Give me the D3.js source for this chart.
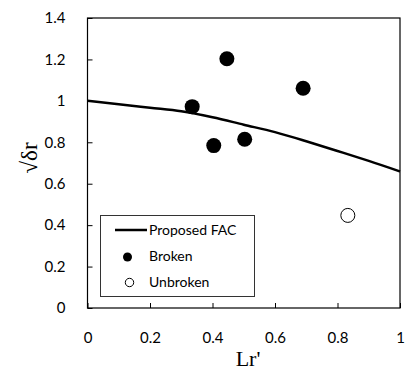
<!DOCTYPE html>
<html>
<head>
<meta charset="utf-8">
<script src="https://cdn.jsdelivr.net/npm/d3@7"></script>
<style>
	body { margin: 0; background: #fff; }
	svg { display: block; }
	.tick text { font-family: Lato, "Open Sans", sans-serif; font-size: 15px; fill: #000; }
	.legend text { font-family: Lato, "Open Sans", sans-serif; font-size: 14px; fill: #000; }
</style>
</head>
<body>
<div id="chart"></div>
<script>
//values
let facLr = [0, 0.1, 0.2, 0.3, 0.4, 0.5, 0.6, 0.7, 0.8, 0.9, 1.0];
let facValues = [1.0, 0.984, 0.967, 0.95, 0.921, 0.885, 0.849, 0.805, 0.758, 0.71, 0.659];

let brokenLr = [0.335, 0.446, 0.404, 0.503, 0.690];
let brokenValues = [0.972, 1.203, 0.784, 0.815, 1.061];

let unbrokenLr = [0.833];
let unbrokenValues = [0.447];

let xTicks = [0, 0.2, 0.4, 0.6, 0.8, 1];
let yTicks = [0, 0.2, 0.4, 0.6, 0.8, 1, 1.2, 1.4];

let legendLabels = ["Proposed FAC", "Broken", "Unbroken"];

function graph(){

	//sizing
	let width = 407;
	let height = 372;
	let margin = {top: 18, right: 7, bottom: 64, left: 87.5};

	let svg = d3.select("#chart")
		.append("svg")
		.attr("width", width)
		.attr("height", height);

	const xScale = d3.scaleLinear()
		.domain([0, 1])
		.range([margin.left, width - margin.right]);

	const yScale = d3.scaleLinear()
		.domain([0, 1.4])
		.range([height - margin.bottom, margin.top]);

	//axes, ticks inside
	const xAxis = d3.axisBottom(xScale)
		.tickValues(xTicks)
		.tickSize(-5)
		.tickSizeOuter(0)
		.tickPadding(24)
		.tickFormat(d3.format("~g"));

	const yAxis = d3.axisLeft(yScale)
		.tickValues(yTicks)
		.tickSize(-5)
		.tickSizeOuter(0)
		.tickPadding(22)
		.tickFormat(d3.format("~g"));

	svg.append("g")
		.attr("class", "axis x_axis")
		.attr("transform", `translate(0,${yScale(0)})`)
		.call(xAxis);

	svg.append("g")
		.attr("class", "axis y_axis")
		.attr("transform", `translate(${xScale(0)},0)`)
		.call(yAxis);

	svg.selectAll(".axis .domain").remove();
	svg.selectAll(".axis line").attr("stroke", "#000");

	//plot frame
	svg.append("rect")
		.attr("x", xScale(0))
		.attr("y", yScale(1.4))
		.attr("width", xScale(1) - xScale(0))
		.attr("height", yScale(0) - yScale(1.4))
		.attr("fill", "none")
		.attr("stroke", "#000")
		.attr("stroke-width", 1.2);

	//curve
	let facData = facLr.map((d, i) => [d, facValues[i]]);
	const line = d3.line()
		.x((d) => xScale(d[0]))
		.y((d) => yScale(d[1]))
		.curve(d3.curveMonotoneX);

	svg.append("path")
		.datum(facData)
		.attr("d", line)
		.attr("fill", "none")
		.attr("stroke", "#000")
		.attr("stroke-width", 2.5);

	//points
	svg.selectAll(".broken")
		.data(brokenLr.map((d, i) => [d, brokenValues[i]]))
		.enter()
		.append("circle")
		.attr("class", "broken")
		.attr("cx", (d) => xScale(d[0]))
		.attr("cy", (d) => yScale(d[1]))
		.attr("r", 7.5)
		.attr("fill", "#000");

	svg.selectAll(".unbroken")
		.data(unbrokenLr.map((d, i) => [d, unbrokenValues[i]]))
		.enter()
		.append("circle")
		.attr("class", "unbroken")
		.attr("cx", (d) => xScale(d[0]))
		.attr("cy", (d) => yScale(d[1]))
		.attr("r", 7)
		.attr("fill", "#fff")
		.attr("stroke", "#000")
		.attr("stroke-width", 1);

	//legend
	let legend = svg.append("g").attr("class", "legend");

	legend.append("rect")
		.attr("x", 100.5)
		.attr("y", 215.5)
		.attr("width", 154)
		.attr("height", 81)
		.attr("fill", "#fff")
		.attr("stroke", "#333")
		.attr("stroke-width", 1);

	legend.append("line")
		.attr("x1", 115).attr("x2", 147)
		.attr("y1", 230).attr("y2", 230)
		.attr("stroke", "#000")
		.attr("stroke-width", 2.5);

	legend.append("circle")
		.attr("cx", 127.5).attr("cy", 257)
		.attr("r", 4.5)
		.attr("fill", "#000");

	legend.append("circle")
		.attr("cx", 129.5).attr("cy", 282.5)
		.attr("r", 4.2)
		.attr("fill", "#fff")
		.attr("stroke", "#000");

	legend.selectAll("text")
		.data(legendLabels)
		.enter()
		.append("text")
		.attr("x", 149)
		.attr("y", (d, i) => 235 + i * 26)
		.text((d) => d);

	//axis titles
	svg.append("text")
		.attr("x", 248)
		.attr("y", 366)
		.attr("text-anchor", "middle")
		.style("font-family", "'Liberation Serif', 'DejaVu Serif', serif")
		.style("font-size", "22px")
		.text("Lr'");

	svg.append("text")
		.attr("transform", "translate(37,158) rotate(-90)")
		.attr("text-anchor", "middle")
		.style("font-family", "'Liberation Serif', 'DejaVu Serif', serif")
		.style("font-size", "23px")
		.text("√δr");

} //function graph

graph();
</script>
</body>
</html>
